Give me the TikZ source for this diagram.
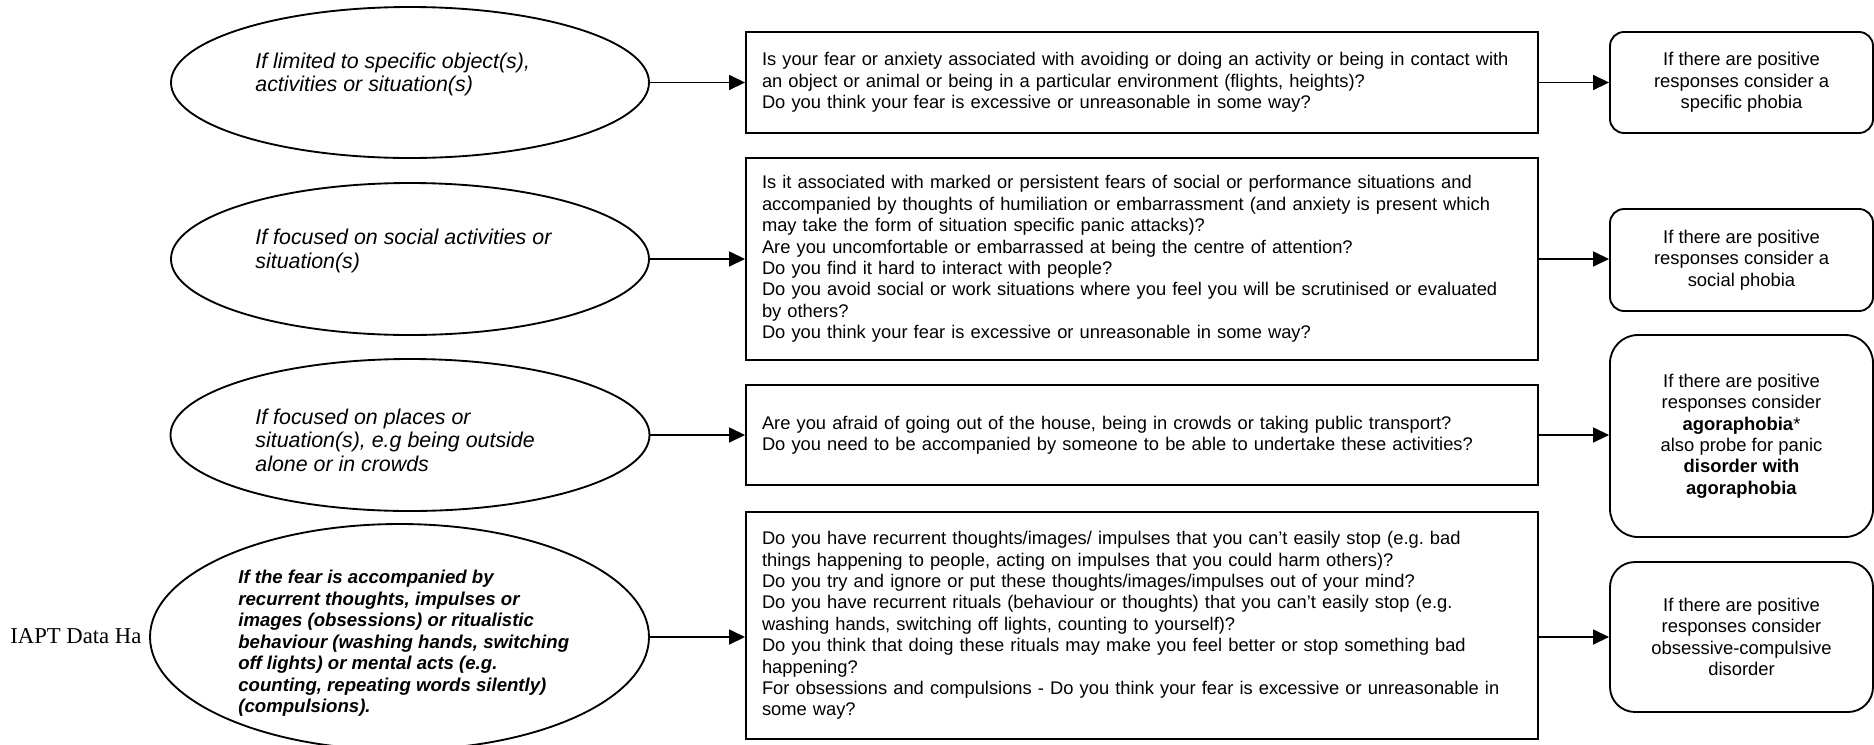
\documentclass[tikz,border=0pt]{standalone}
\usepackage{fontspec}
\setmainfont{Liberation Sans}
\newfontfamily\timesface{Liberation Serif}
\usepackage{tikz}
\usetikzlibrary{arrows.meta,shapes.geometric}
\newlength{\pu}
\setlength{\pu}{0.5376pt}

\begin{document}
\frenchspacing
\begin{tikzpicture}[x=0.5376pt, y=-0.5376pt,
    oval/.style={draw, line width=1pt, ellipse, inner sep=0pt, fill=white},
    ovaltext/.style={anchor=west, align=left, inner sep=0pt,
        font=\fontsize{11.5}{12.6}\selectfont\itshape},
    askbox/.style={draw, line width=1pt, align=left, text width=760\pu,
        inner xsep=16\pu, minimum width=792\pu,
        font=\fontsize{9.85}{11.5}\selectfont},
    dxbox/.style={draw, line width=1pt, align=center, minimum width=263\pu,
        font=\fontsize{9.9}{11.5}\selectfont},
    link/.style={line width=1pt, -{Triangle[length=8.6pt, width=8pt]}}]
\useasboundingbox (0,0) rectangle (1874,744);
% LEFT COLUMN: what the fear is about
\node[font=\timesface\fontsize{12.2}{14}\selectfont, anchor=base west, inner sep=0pt] (hdr) at (10,643) {IAPT Data Ha};
\node[oval, minimum width=478\pu, minimum height=151\pu] (condA) at (410,82.5) {};
\node[ovaltext] (condAtxt) at (255,74.5) {If limited to specific object(s),\\activities or situation(s)};
\node[oval, minimum width=478\pu, minimum height=152\pu] (condB) at (410,259) {};
\node[ovaltext] (condBtxt) at (255,251) {If focused on social activities or\\situation(s)};
\node[oval, minimum width=479\pu, minimum height=152\pu] (condC) at (410,435) {};
\node[ovaltext] (condCtxt) at (255,440) {If focused on places or\\situation(s), e.g being outside\\alone or in crowds};
\node[oval, minimum width=499\pu, minimum height=226\pu] (condD) at (399.5,637) {};
\node[ovaltext, font=\fontsize{10}{11.56}\selectfont\bfseries\itshape] (condDtxt) at (238,643.5)
    {If the fear is accompanied by\\recurrent thoughts, impulses or\\images (obsessions) or ritualistic\\behaviour (washing hands, switching\\off lights) or mental acts (e.g.\\counting, repeating words silently)\\(compulsions).};
% MIDDLE COLUMN: screening questions
\node[askbox, minimum height=101\pu] (askA) at (1142,82.5)
    {Is your fear or anxiety associated with avoiding or doing an activity or being in contact with\\an object or animal or being in a particular environment (flights, heights)?\\Do you think your fear is excessive or unreasonable in some way?};
\node[askbox, minimum height=202\pu] (askB) at (1142,259)
    {Is it associated with marked or persistent fears of social or performance situations and\\accompanied by thoughts of humiliation or embarrassment (and anxiety is present which\\may take the form of situation specific panic attacks)?\\Are you uncomfortable or embarrassed at being the centre of attention?\\Do you find it hard to interact with people?\\Do you avoid social or work situations where you feel you will be scrutinised or evaluated\\by others?\\Do you think your fear is excessive or unreasonable in some way?};
\node[askbox, minimum height=100\pu] (askC) at (1142,435)
    {Are you afraid of going out of the house, being in crowds or taking public transport?\\Do you need to be accompanied by someone to be able to undertake these activities?};
\node[askbox, minimum height=227\pu] (askD) at (1142,625.5)
    {Do you have recurrent thoughts/images/ impulses that you can’t easily stop (e.g. bad\\things happening to people, acting on impulses that you could harm others)?\\Do you try and ignore or put these thoughts/images/impulses out of your mind?\\Do you have recurrent rituals (behaviour or thoughts) that you can’t easily stop (e.g.\\washing hands, switching off lights, counting to yourself)?\\Do you think that doing these rituals may make you feel better or stop something bad\\happening?\\For obsessions and compulsions - Do you think your fear is excessive or unreasonable in\\some way?};
% RIGHT COLUMN: what to consider
\node[dxbox, rounded corners=14\pu, minimum height=101\pu] (dxA) at (1741.5,82.5)
    {If there are positive\\responses consider a\\specific phobia};
\node[dxbox, rounded corners=14\pu, minimum height=102\pu] (dxB) at (1741.5,260)
    {If there are positive\\responses consider a\\social phobia};
\node[dxbox, rounded corners=28\pu, minimum height=202\pu] (dxC) at (1741.5,436)
    {If there are positive\\responses consider\\\textbf{agoraphobia}*\\also probe for panic\\\textbf{disorder with}\\\textbf{agoraphobia}};
\node[dxbox, rounded corners=25\pu, minimum height=150\pu] (dxD) at (1741.5,637)
    {If there are positive\\responses consider\\obsessive-compulsive\\disorder};
% arrows
\draw[link] (condA.east) -- (condA.east -| askA.west);
\draw[link] (condB.east) -- (condB.east -| askB.west);
\draw[link] (condC.east) -- (condC.east -| askC.west);
\draw[link] (condD.east) -- (condD.east -| askD.west);
\draw[link] (askA.east) -- (askA.east -| dxA.west);
\draw[link] (askB.east) -- (askB.east -| dxB.west);
\draw[link] (askC.east) -- (askC.east -| dxC.west);
\draw[link] (dxD.west -| askD.east) -- (dxD.west);
\end{tikzpicture}
\end{document}
